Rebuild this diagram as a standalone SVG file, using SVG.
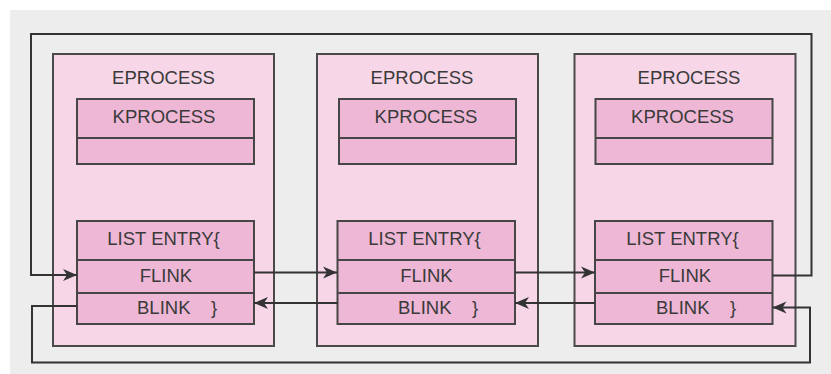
<svg xmlns="http://www.w3.org/2000/svg" width="831" height="374" viewBox="0 0 831 374">
  <defs>
    <style>
      .panel { fill: #ecedec; }
      .eproc { fill: #f6d6e7; stroke: #4a4a4a; stroke-width: 2; }
      .cell { fill: #edb7d5; stroke: #464646; stroke-width: 2; }
      .lbl { font-family: "Liberation Sans", Arial, sans-serif; font-size: 18.5px; fill: #3a3a3a; }
      .mid { text-anchor: middle; }
      .wire { fill: none; stroke: #333333; stroke-width: 2; }
    </style>
    <marker id="head" markerUnits="userSpaceOnUse" markerWidth="16" markerHeight="14" refX="15" refY="7" orient="auto">
      <path d="M1,1 L15,7 L1,13 L5,7 z" fill="#333333"/>
    </marker>
  </defs>

  <rect class="panel" x="10" y="10" width="821" height="364"/>

  <!-- process 1 -->
  <g id="process1">
    <rect class="eproc" x="53" y="54" width="221" height="292"/>
    <text class="lbl mid" x="163.5" y="84">EPROCESS</text>
    <rect class="cell" x="77" y="99" width="177" height="65"/>
    <line class="cell" x1="77" y1="138" x2="254" y2="138"/>
    <text class="lbl mid" x="164" y="123">KPROCESS</text>
    <rect class="cell" x="77" y="221" width="177" height="103"/>
    <line class="cell" x1="77" y1="260" x2="254" y2="260"/>
    <line class="cell" x1="77" y1="293" x2="254" y2="293"/>
    <text class="lbl mid" x="163.5" y="245">LIST ENTRY{</text>
    <text class="lbl mid" x="166" y="282">FLINK</text>
    <text class="lbl" x="137" y="314">BLINK</text>
    <text class="lbl" x="211" y="314">}</text>
  </g>

  <!-- process 2 -->
  <g id="process2">
    <rect class="eproc" x="317" y="54" width="221" height="292"/>
    <text class="lbl mid" x="422" y="84">EPROCESS</text>
    <rect class="cell" x="339" y="99" width="177" height="65"/>
    <line class="cell" x1="339" y1="138" x2="516" y2="138"/>
    <text class="lbl mid" x="426" y="123">KPROCESS</text>
    <rect class="cell" x="337.5" y="221" width="177.5" height="103"/>
    <line class="cell" x1="337.5" y1="260" x2="515" y2="260"/>
    <line class="cell" x1="337.5" y1="293" x2="515" y2="293"/>
    <text class="lbl mid" x="424.5" y="245">LIST ENTRY{</text>
    <text class="lbl mid" x="426.5" y="282">FLINK</text>
    <text class="lbl" x="398" y="314">BLINK</text>
    <text class="lbl" x="472" y="314">}</text>
  </g>

  <!-- process 3 -->
  <g id="process3">
    <rect class="eproc" x="574.5" y="54" width="221" height="292"/>
    <text class="lbl mid" x="689" y="84">EPROCESS</text>
    <rect class="cell" x="595.5" y="99" width="177" height="65"/>
    <line class="cell" x1="595.5" y1="138" x2="772.5" y2="138"/>
    <text class="lbl mid" x="682.5" y="123">KPROCESS</text>
    <rect class="cell" x="595" y="221" width="177.5" height="103"/>
    <line class="cell" x1="595" y1="260" x2="772.5" y2="260"/>
    <line class="cell" x1="595" y1="293" x2="772.5" y2="293"/>
    <text class="lbl mid" x="682.5" y="245">LIST ENTRY{</text>
    <text class="lbl mid" x="685" y="282">FLINK</text>
    <text class="lbl" x="656" y="314">BLINK</text>
    <text class="lbl" x="730" y="314">}</text>
  </g>

  <!-- list links -->
  <g id="links">
    <path class="wire" d="M254,272.5 H337" marker-end="url(#head)"/>
    <path class="wire" d="M515,272.5 H595" marker-end="url(#head)"/>
    <path class="wire" d="M337.5,303 H254" marker-end="url(#head)"/>
    <path class="wire" d="M595,303 H515" marker-end="url(#head)"/>
    <path class="wire" d="M772.5,275.5 H811.5 V34 H31 V275 H77" marker-end="url(#head)"/>
    <path class="wire" d="M77,306 H32 V362.5 H810 V307.5 H772.5" marker-end="url(#head)"/>
  </g>
</svg>
